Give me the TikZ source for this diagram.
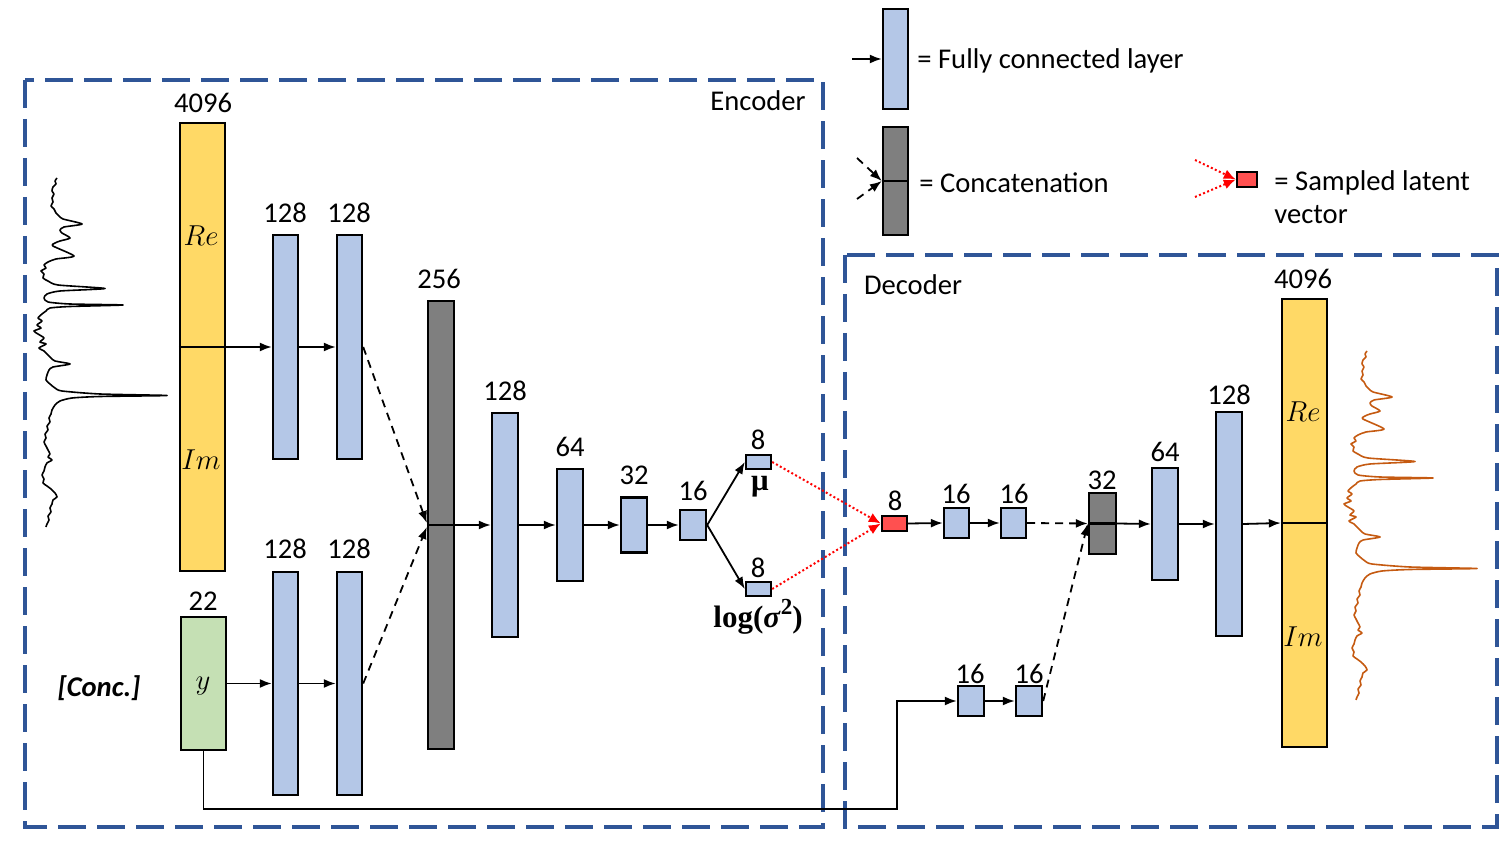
\documentclass[tikz,border=0pt]{standalone}
\usepackage{fontspec}
\setmainfont{Carlito}
\newfontfamily\lserif{Liberation Serif}
\usetikzlibrary{arrows.meta}
\definecolor{fcblue}{HTML}{B4C7E7}
\definecolor{catgray}{HTML}{7F7F7F}
\definecolor{inyellow}{HTML}{FFD966}
\definecolor{ygreen}{HTML}{C5E0B4}
\definecolor{zred}{HTML}{FF5050}
\definecolor{frameblue}{HTML}{2F5597}
\definecolor{specorange}{HTML}{C55A11}
\begin{document}
\begin{tikzpicture}[x=0.5pt,y=-0.5pt,
  every node/.style={inner sep=0pt, font=\fontsize{14.3}{17}\selectfont},
  sz/.style 2 args={minimum width=#1*0.5pt, minimum height=#2*0.5pt},
  layer/.style={draw, line width=1.2pt, rectangle},
  fc/.style={layer, fill=fcblue},
  cat/.style={layer, fill=catgray},
  yel/.style={layer, fill=inyellow},
  grn/.style={layer, fill=ygreen},
  zbox/.style={layer, fill=zred},
  arr/.style={line width=0.9pt, -{Latex[length=6pt,width=4.5pt]}},
  darr/.style={arr, dash pattern=on 4pt off 3pt},
  rarr/.style={line width=1pt, red, dash pattern=on 1pt off 1.2pt, -{Latex[length=6pt,width=5pt]}},
  frame/.style={draw=frameblue, line width=1.6pt, dash pattern=on 14pt off 5.5pt},
  spec/.style={line width=0.8pt, line join=round},
  mathlbl/.style={font=\fontsize{14.5}{17}\selectfont},
  bigfont/.style={font=\fontsize{15.5}{18}\selectfont},
]
\useasboundingbox (0,0) rectangle (1509,844);

% frames
\draw[frame] (25,80) rectangle (823,827);
\draw[frame] (845,255) rectangle (1497,827);
\node (enc) at (758,101) {Encoder};
\node (dec) at (913,285) {Decoder};

% spectra
\draw[spec, black] plot[smooth, tension=0.4] coordinates {(57,178) (55,181) (56,184) (53,187) (52,191) (54,194) (52,198) (53,202) (51,206) (54,209) (56,213) (59,216) (63,219) (82,224) (64,227) (60,230) (62,233) (70,238) (60,241) (55,243) (53,246) (74,256) (56,259) (48,262) (44,265) (46,268) (41,271) (44,274) (43,278) (48,281) (58,285) (105,288.5) (60,291) (47,294) (44,298) (48,302) (70,304) (123,305) (70,306.5) (50,308) (46,311) (42,314) (38,318) (42,321) (37,325) (41,328) (34,331) (38,334) (44,338) (40,342) (46,344) (39,348) (44,351) (47,354) (51,358) (55,361) (70,364) (53,367) (49,370) (47,375) (46,380) (50,384) (55,388) (62,391) (100,394) (167,395.5) (100,396.5) (72,398) (60,401) (55,405) (52,410) (51,414) (49,418) (50,422) (47,426) (48,430) (45,434) (46,438) (44,442) (46,446) (48,450) (50,454) (48,457) (52,460) (47,463) (45,467) (44,471) (42,475) (44,479) (43,483) (47,486) (51,489) (55,493) (57,497) (53,500) (52,504) (50,508) (51,512) (48,516) (49,520) (47,524) (46,527)};
\begin{scope}[shift={(1310,173)}]
\draw[spec, specorange] plot[smooth, tension=0.4] coordinates {(57,178) (55,181) (56,184) (53,187) (52,191) (54,194) (52,198) (53,202) (51,206) (54,209) (56,213) (59,216) (63,219) (82,224) (64,227) (60,230) (62,233) (70,238) (60,241) (55,243) (53,246) (74,256) (56,259) (48,262) (44,265) (46,268) (41,271) (44,274) (43,278) (48,281) (58,285) (105,288.5) (60,291) (47,294) (44,298) (48,302) (70,304) (123,305) (70,306.5) (50,308) (46,311) (42,314) (38,318) (42,321) (37,325) (41,328) (34,331) (38,334) (44,338) (40,342) (46,344) (39,348) (44,351) (47,354) (51,358) (55,361) (70,364) (53,367) (49,370) (47,375) (46,380) (50,384) (55,388) (62,391) (100,394) (167,395.5) (100,396.5) (72,398) (60,401) (55,405) (52,410) (51,414) (49,418) (50,422) (47,426) (48,430) (45,434) (46,438) (44,442) (46,446) (48,450) (50,454) (48,457) (52,460) (47,463) (45,467) (44,471) (42,475) (44,479) (43,483) (47,486) (51,489) (55,493) (57,497) (53,500) (52,504) (50,508) (51,512) (48,516) (49,520) (47,524) (46,527)};
\end{scope}

% encoder layers
\node[yel, sz={45}{448}] (in) at (202.5,347) {};
\draw[line width=1.2pt] (in.west) -- (in.east);
\node[mathlbl] (inRe) at (201,236) {$Re$};
\node[mathlbl] (inIm) at (201,460) {$Im$};
\node (inN) at (203,103) {4096};

\node[fc, sz={25}{224}] (e1) at (285.5,347) {};
\node[fc, sz={25}{224}] (e2) at (349.5,347) {};
\node (e1N) at (285,213) {128};
\node (e2N) at (349,213) {128};

\node[grn, sz={45}{133}] (yb) at (203.5,683.5) {};
\node[mathlbl] (ybL) at (203,686) {$y$};
\node (ybN) at (203,601) {22};
\node (conc) at (99,688) {\bfseries\itshape [Conc.]};

\node[fc, sz={25}{223}] (f1) at (285.5,683.5) {};
\node[fc, sz={25}{223}] (f2) at (349.5,683.5) {};
\node (f1N) at (285,549) {128};
\node (f2N) at (349,549) {128};

\node[cat, sz={26}{448}] (c1) at (441,525) {};
\draw[line width=1.2pt] (c1.west) -- (c1.east);
\node (c1N) at (439,279) {256};

\node[fc, sz={26}{224}] (h1) at (505,525) {};
\node[fc, sz={26}{112}] (h2) at (570,525) {};
\node[fc, sz={26}{55}] (h3) at (634,525) {};
\node[fc, sz={26}{30}] (h4) at (693,525) {};
\node (h1N) at (505,391) {128};
\node (h2N) at (570,447) {64};
\node (h3N) at (634,475) {32};
\node (h4N) at (693,491) {16};

\node[fc, sz={25}{14}] (mu) at (758.5,462) {};
\node[fc, sz={25}{14}] (lv) at (758.5,589) {};
\node (muN) at (758,440) {8};
\node (lvN) at (758,568) {8};
\node[bigfont] (muL) at (760,487) {\lserif\bfseries μ};
\node[bigfont] (lvL) at (758,617) {\lserif\bfseries log(\textit{σ}\raisebox{0.42em}{\fontsize{11.5}{12}\selectfont 2})};

% decoder layers
\node[zbox, sz={25}{15}] (z) at (894.5,523.5) {};
\node (zN) at (895,501) {8};
\node[fc, sz={25}{30}] (d1) at (956.5,523) {};
\node[fc, sz={25}{30}] (d2) at (1013.5,523) {};
\node (d1N) at (956,494) {16};
\node (d2N) at (1014,494) {16};
\node[cat, sz={27}{61}] (c2) at (1102.5,523.5) {};
\draw[line width=1.2pt] (c2.west) -- (c2.east);
\node (c2N) at (1102,480) {32};
\node[fc, sz={26}{112}] (d3) at (1165,524) {};
\node[fc, sz={26}{224}] (d4) at (1229,524) {};
\node (d3N) at (1165,452) {64};
\node (d4N) at (1229,395) {128};
\node[yel, sz={45}{448}] (out) at (1304.5,523) {};
\draw[line width=1.2pt] (out.west) -- (out.east);
\node[mathlbl] (outRe) at (1303,412) {$Re$};
\node[mathlbl] (outIm) at (1303,637) {$Im$};
\node (outN) at (1303,279) {4096};

\node[fc, sz={26}{30}] (l1) at (971,701) {};
\node[fc, sz={26}{30}] (l2) at (1029,701) {};
\node (l1N) at (970,674) {16};
\node (l2N) at (1029,674) {16};

% connectors encoder
\draw[arr] (in.east) -- (e1.west);
\draw[arr] (e1.east) -- (e2.west);
\draw[arr] (yb.east) -- (f1.west);
\draw[arr] (f1.east) -- (f2.west);
\draw[darr] (e2.east) -- ([yshift=1pt]c1.west);
\draw[darr] (f2.east) -- ([yshift=-1pt]c1.west);
\draw[arr] (c1.east) -- (h1.west);
\draw[arr] (h1.east) -- (h2.west);
\draw[arr] (h2.east) -- (h3.west);
\draw[arr] (h3.east) -- (h4.west);
\draw[arr] (h4.east) -- (mu.west);
\draw[arr] (h4.east) -- (lv.west);
\draw[rarr] (mu.east) -- (z.west);
\draw[rarr] (lv.east) -- (z.west);

% connectors decoder
\draw[arr] (z.east) -- (d1.west);
\draw[arr] (d1.east) -- (d2.west);
\draw[darr] (d2.east) -- (c2.west);
\draw[arr] (c2.east) -- (d3.west);
\draw[arr] (d3.east) -- (d4.west);
\draw[arr] (d4.east) -- (out.west);
\coordinate (turn) at (897,809);
\draw[arr] (yb.south) |- (turn) |- (l1.west);
\draw[arr] (l1.east) -- (l2.west);
\draw[darr] (l2.east) -- (c2.west);

% legend
\node[fc, sz={25}{100}] (lfc) at (895.5,59) {};
\coordinate (lfcS) at (852,59);
\draw[arr] (lfcS) -- (lfc.west);
\node[anchor=west] (lfcT) at (917,61) {= Fully connected layer};

\node[cat, sz={25}{108}] (lcat) at (895.5,181) {};
\draw[line width=1.2pt] (lcat.west) -- (lcat.east);
\coordinate (lcatA) at (857,158);
\coordinate (lcatB) at (857,199);
\draw[darr] (lcatA) -- (lcat.west);
\draw[darr] (lcatB) -- (lcat.west);
\node[anchor=west] (lcatT) at (919,183) {= Concatenation};

\node[zbox, sz={20}{15}] (lz) at (1247,179.5) {};
\coordinate (lzA) at (1195,160);
\coordinate (lzB) at (1195,197);
\draw[rarr] (lzA) -- (lz.west);
\draw[rarr] (lzB) -- (lz.west);
\node[anchor=west, align=left] (lzT) at (1274,197) {= Sampled latent\\[-0.5pt]vector};
\end{tikzpicture}
\end{document}
